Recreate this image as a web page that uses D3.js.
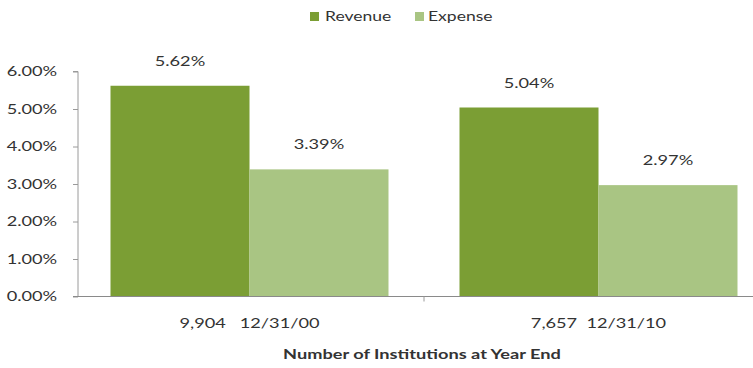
<!DOCTYPE html>
<html>
<head>
<meta charset="utf-8">
<script src="https://cdn.jsdelivr.net/npm/d3@7"></script>
<style>
  html, body { margin: 0; padding: 0; background: #fff; }
  svg { display: block; }
  text { font-family: Lato, "Open Sans", sans-serif; fill: #333; }
</style>
</head>
<body>
<svg id="chart" width="753" height="368"></svg>
<script>
// Chart data
const categories = ["9,904   12/31/00", "7,657  12/31/10"];
const seriesNames = ["Revenue", "Expense"];
const revenue = [5.62, 5.04];
const expense = [3.39, 2.97];
const yTicks = [0, 1, 2, 3, 4, 5, 6];
const xTitle = "Number of Institutions at Year End";

const colors = { Revenue: "#7b9e34", Expense: "#a9c583" };

// Text in this chart is set wide: glyphs are stretched horizontally.
const STRETCH = 1.3;
const FS = 14;

const svg = d3.select("#chart");
const W = 753, H = 368;
const axisX = 78;
const plotTop = 71.5, plotBottom = 296.5;

const x = d3.scaleBand().domain(categories).range([75, 773]).padding(0);
const inner = d3.scaleBand().domain(seriesNames)
  .range([35.5, x.bandwidth() - 35.5]).padding(0);
const y = d3.scaleLinear().domain([0, 6]).range([plotBottom, plotTop]);

const rows = categories.map((c, i) => ({ cat: c, Revenue: revenue[i], Expense: expense[i] }));

// Places a stretched text element at (tx, ty)
function wideText(parent, tx, ty, str, opts = {}) {
  return parent.append("text")
    .attr("transform", `translate(${tx},${ty}) scale(${STRETCH},1)`)
    .attr("text-anchor", opts.anchor || "middle")
    .attr("font-size", opts.size || FS)
    .attr("font-weight", opts.weight || "normal")
    .attr("fill", opts.fill || "#333")
    .attr("xml:space", "preserve")
    .style("white-space", "pre")
    .text(str);
}

// Bars
const groups = svg.append("g").selectAll("g").data(rows).join("g")
  .attr("transform", d => `translate(${x(d.cat)},0)`);

groups.selectAll("rect")
  .data(d => seriesNames.map(s => ({ s, v: d[s] })))
  .join("rect")
  .attr("x", d => inner(d.s))
  .attr("width", inner.bandwidth())
  .attr("y", d => y(d.v))
  .attr("height", d => y(0) - y(d.v))
  .attr("fill", d => colors[d.s]);

// Value labels
groups.each(function(d) {
  const g = d3.select(this);
  seriesNames.forEach(s => {
    wideText(g, inner(s) + inner.bandwidth() / 2, y(d[s]) - 20, d[s].toFixed(2) + "%");
  });
});

// Y axis
const yAxis = svg.append("g")
  .attr("transform", `translate(${axisX},0)`)
  .call(d3.axisLeft(y).tickValues(yTicks).tickSize(5).tickPadding(11)
    .tickFormat(d => d.toFixed(2) + "%"));
yAxis.select(".domain").attr("stroke", "#9a9a9a").attr("d", `M-5,${y(6)}H0V${y(0)}`);
yAxis.selectAll(".tick line").attr("stroke", "#9a9a9a");
yAxis.selectAll(".tick text")
  .attr("font-size", FS).attr("fill", "#333")
  .attr("transform", `scale(${STRETCH},1)`)
  .style("font-family", "Lato, 'Open Sans', sans-serif");

// X axis baseline with category separator
const xAxis = svg.append("g").attr("transform", `translate(0,${y(0)})`);
xAxis.append("line").attr("x1", axisX - 5).attr("x2", W).attr("y1", 0).attr("y2", 0)
  .attr("stroke", "#8a8a8a").attr("stroke-width", 1.2);
xAxis.append("line").attr("x1", x(categories[1])).attr("x2", x(categories[1]))
  .attr("y1", 0).attr("y2", 5).attr("stroke", "#9a9a9a");
categories.forEach(c => wideText(xAxis, x(c) + x.bandwidth() / 2, 31, c));

// Axis title
wideText(svg, 422, 359, xTitle, { weight: "bold", fill: "#222" });

// Legend
const legendItems = [
  { s: "Revenue", sx: 310, tx: 325 },
  { s: "Expense", sx: 415, tx: 428 }
];
legendItems.forEach(it => {
  svg.append("rect").attr("x", it.sx).attr("y", 12).attr("width", 9).attr("height", 9)
    .attr("fill", colors[it.s]);
  wideText(svg, it.tx, 21, it.s, { anchor: "start", size: 13.5 });
});
</script>
</body>
</html>
